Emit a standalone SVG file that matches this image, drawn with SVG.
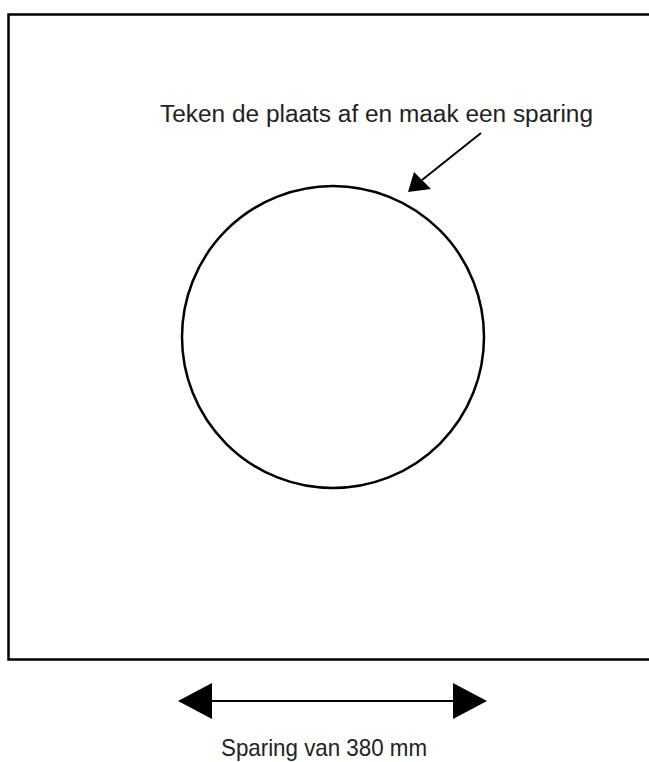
<svg xmlns="http://www.w3.org/2000/svg" width="649" height="762" viewBox="0 0 649 762">
<style>
.ln{fill:none;stroke:#000;}
.lbl{font-family:"Liberation Sans",Arial,sans-serif;fill:#222;}
</style>
<rect width="649" height="762" fill="#fff"/>
<g id="plate"><rect class="ln" x="8.5" y="14.5" width="660" height="645" stroke-width="2.5"/></g>
<g id="hole"><circle class="ln" cx="333" cy="337" r="151" stroke-width="2.5"/></g>
<g id="connectors">
<line class="ln" x1="481" y1="133" x2="422" y2="180" stroke-width="2"/>
<polygon points="408,192 414,172 431,189" fill="#000"/>
<line class="ln" x1="205" y1="701" x2="460" y2="701" stroke-width="2"/>
<polygon points="178,701 212,683 212,719" fill="#000"/>
<polygon points="487,701 453,683 453,719" fill="#000"/>
</g>
<g id="labels">
<text class="lbl" x="160" y="122" font-size="23" textLength="433" lengthAdjust="spacingAndGlyphs">Teken de plaats af en maak een sparing</text>
<text class="lbl" x="221" y="756" font-size="24" textLength="206" lengthAdjust="spacingAndGlyphs">Sparing van 380 mm</text>
</g>
</svg>
